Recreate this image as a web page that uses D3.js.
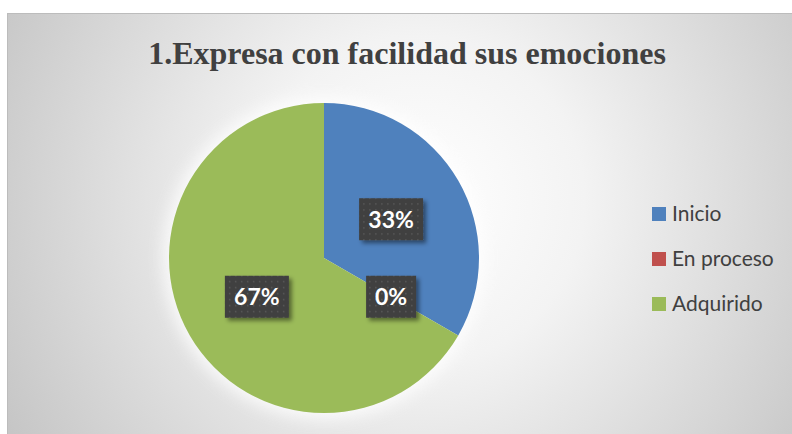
<!DOCTYPE html>
<html>
<head>
<meta charset="utf-8">
<script src="https://cdn.jsdelivr.net/npm/d3@7"></script>
<style>
  body { margin: 0; background: #fff; }
  svg { display: block; }
</style>
</head>
<body>
<div id="chart"></div>
<script>
// data
let categories = ["Inicio", "En proceso", "Adquirido"];
let values = [1, 0, 2];
let labels = ["33%", "0%", "67%"];
let title = "1.Expresa con facilidad sus emociones";

let width = 792,
	height = 434;

let svg = d3.select('#chart').append('svg')
	.attr('width', width)
	.attr('height', height);

let defs = svg.append('defs');

// background gradient
let bg = defs.append('radialGradient')
	.attr('id', 'bg')
	.attr('gradientUnits', 'userSpaceOnUse')
	.attr('cx', 420).attr('cy', 200).attr('r', 470);
bg.append('stop').attr('offset', '0%').attr('stop-color', '#ffffff');
bg.append('stop').attr('offset', '35%').attr('stop-color', '#f3f3f3');
bg.append('stop').attr('offset', '100%').attr('stop-color', '#c6c6c6');

// dotted pattern for label boxes
let pat = defs.append('pattern')
	.attr('id', 'dots')
	.attr('patternUnits', 'userSpaceOnUse')
	.attr('width', 6).attr('height', 6);
pat.append('rect').attr('width', 6).attr('height', 6).attr('fill', '#3f3f3f');
pat.append('rect').attr('x', 2).attr('y', 2).attr('width', 1.5).attr('height', 1.5).attr('fill', '#5a5a5a');

let sh = defs.append('filter').attr('id', 'shadow')
	.attr('x', '-30%').attr('y', '-30%').attr('width', '160%').attr('height', '160%');
sh.append('feDropShadow')
	.attr('dx', 3).attr('dy', 3).attr('stdDeviation', 2)
	.attr('flood-color', '#000').attr('flood-opacity', 0.45);

let glow = defs.append('filter').attr('id', 'glow')
	.attr('x', '-20%').attr('y', '-20%').attr('width', '140%').attr('height', '140%');
glow.append('feGaussianBlur').attr('stdDeviation', 8);

// chart area
svg.append('rect')
	.attr('x', 7.5).attr('y', 13.5)
	.attr('width', 820).attr('height', 440)
	.attr('fill', 'url(#bg)')
	.attr('stroke', '#bcbcbc')
	.attr('stroke-width', 1);

// title
svg.append('text')
	.attr('x', 407)
	.attr('y', 64)
	.attr('text-anchor', 'middle')
	.style('font-family', '"Liberation Serif", "Times New Roman", serif')
	.style('font-weight', 'bold')
	.style('font-size', '32px')
	.attr('fill', '#404040')
	.text(title);

// pie
let cx = 324,
	cy = 258,
	radius = 155;

let colors = d3.scaleOrdinal()
	.domain(categories)
	.range(["#4f81bd", "#c0504d", "#9bbb59"]);

let pie = d3.pie().sort(null).value(function(d) { return d.value; });
let arc = d3.arc().innerRadius(0).outerRadius(radius);
let labelArc = d3.arc().innerRadius(radius * 0.5).outerRadius(radius * 0.5);

let data = categories.map(function(c, i) {
	return { cat: c, value: values[i], label: labels[i] };
});
let arcs = pie(data);

let g = svg.append('g').attr('transform', 'translate(' + cx + ',' + cy + ')');

g.append('circle')
	.attr('r', radius + 6)
	.attr('fill', '#ffffff')
	.attr('opacity', 0.8)
	.attr('filter', 'url(#glow)');

g.selectAll('.slice')
	.data(arcs)
	.enter().append('path').classed('slice', true)
	.attr('d', arc)
	.attr('fill', function(d) { return colors(d.data.cat); });

// data labels
let lab = g.selectAll('.lab')
	.data(arcs)
	.enter().append('g').classed('lab', true)
	.attr('transform', function(d) {
		let p = labelArc.centroid(d);
		return 'translate(' + p[0] + ',' + p[1] + ')';
	});

lab.append('rect')
	.attr('x', function(d) { return d.data.label.length > 2 ? -32 : -25; })
	.attr('y', -21)
	.attr('width', function(d) { return d.data.label.length > 2 ? 64 : 50; })
	.attr('height', 42)
	.attr('fill', 'url(#dots)')
	.attr('filter', 'url(#shadow)');

lab.append('text')
	.attr('text-anchor', 'middle')
	.attr('dy', '0.36em')
	.style('font-family', 'Lato, "Open Sans", sans-serif')
	.style('font-weight', 'bold')
	.style('font-size', '23px')
	.attr('fill', '#ffffff')
	.text(function(d) { return d.data.label; });

// legend
let legend = svg.append('g').attr('transform', 'translate(652, 214)');
let item = legend.selectAll('.leg')
	.data(categories)
	.enter().append('g').classed('leg', true)
	.attr('transform', function(d, i) { return 'translate(0,' + (i * 45) + ')'; });

item.append('rect')
	.attr('x', 0).attr('y', -7)
	.attr('width', 14).attr('height', 14)
	.attr('fill', function(d) { return colors(d); });

item.append('text')
	.attr('x', 20)
	.attr('dy', '0.35em')
	.style('font-family', 'Lato, "Open Sans", sans-serif')
	.style('font-size', '21px')
	.attr('fill', '#404040')
	.text(function(d) { return d; });
</script>
</body>
</html>
